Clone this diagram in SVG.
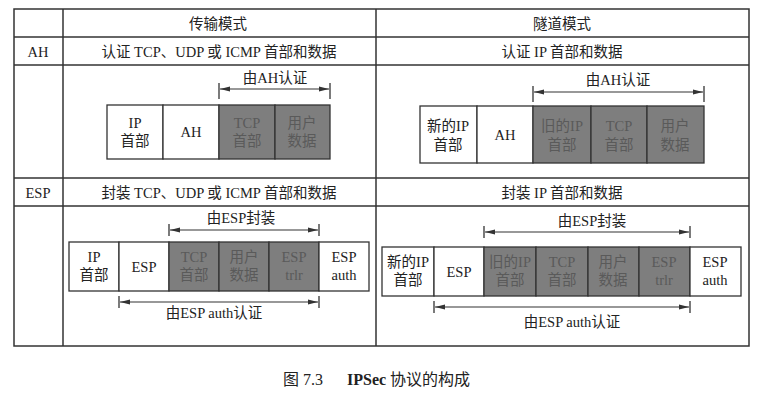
<svg xmlns="http://www.w3.org/2000/svg" width="759" height="401" viewBox="0 0 759 401">
<defs>
<marker id="ah" viewBox="0 0 10 6" refX="10" refY="3" markerWidth="10" markerHeight="6" markerUnits="userSpaceOnUse" orient="auto-start-reverse">
<path d="M0,0.5 L10,3 L0,5.5 Z" fill="#333"/>
</marker>
<style>
text{font-family:"Liberation Serif","Noto Sans CJK SC",serif;fill:#222;font-size:14.5px;text-anchor:middle}
.hd{font-size:14.5px}
.grid{stroke:#333;stroke-width:1.5;fill:none}
.w{fill:#fff;stroke:#333;stroke-width:1.3}
.g{fill:#7e7e7e;stroke:#333;stroke-width:1.3}
.gt{fill:#5a5a5a}
.ar{stroke:#333;stroke-width:1.1;fill:none}
.tk{stroke:#333;stroke-width:1.3}
.cap{font-size:16px;text-anchor:start}
</style>
</defs>
<rect width="759" height="401" fill="#fff"/>
<g id="table">
<rect class="grid" x="14" y="9" width="735" height="337"/>
<line class="grid" x1="63" y1="9" x2="63" y2="346"/>
<line class="grid" x1="376" y1="9" x2="376" y2="346"/>
<line class="grid" x1="14" y1="37" x2="749" y2="37"/>
<line class="grid" x1="14" y1="65" x2="749" y2="65"/>
<line class="grid" x1="14" y1="178" x2="749" y2="178"/>
<line class="grid" x1="14" y1="206" x2="749" y2="206"/>
<text class="hd" x="218" y="29">传输模式</text>
<text class="hd" x="562" y="29">隧道模式</text>
<text class="hd" x="38" y="57">AH</text>
<text class="hd" x="219" y="57">认证 TCP、UDP 或 ICMP 首部和数据</text>
<text class="hd" x="562" y="57">认证 IP 首部和数据</text>
<text class="hd" x="38" y="198">ESP</text>
<text class="hd" x="219" y="198">封装 TCP、UDP 或 ICMP 首部和数据</text>
<text class="hd" x="562" y="198">封装 IP 首部和数据</text>
</g>
<g id="ah-transport">
<rect class="w" x="107" y="105" width="56" height="54"/>
<rect class="w" x="163" y="105" width="56" height="54"/>
<rect class="g" x="219" y="105" width="56" height="54"/>
<rect class="g" x="275" y="105" width="55" height="54"/>
<text x="135" y="128">IP</text><text x="135" y="146">首部</text>
<text x="191" y="137">AH</text>
<text class="gt" x="247" y="128">TCP</text><text class="gt" x="247" y="146">首部</text>
<text class="gt" x="302" y="128">用户</text><text class="gt" x="302" y="146">数据</text>
</g>
<g id="ah-tunnel">
<rect class="w" x="420" y="106" width="57" height="57"/>
<rect class="w" x="477" y="106" width="56" height="57"/>
<rect class="g" x="533" y="106" width="58" height="57"/>
<rect class="g" x="591" y="106" width="56" height="57"/>
<rect class="g" x="647" y="106" width="57" height="57"/>
<text x="448" y="131">新的IP</text><text x="448" y="150">首部</text>
<text x="505" y="140">AH</text>
<text class="gt" x="562" y="131">旧的IP</text><text class="gt" x="562" y="150">首部</text>
<text class="gt" x="619" y="131">TCP</text><text class="gt" x="619" y="150">首部</text>
<text class="gt" x="675" y="131">用户</text><text class="gt" x="675" y="150">数据</text>
</g>
<g id="esp-transport">
<rect class="w" x="69" y="242" width="50" height="49"/>
<rect class="w" x="119" y="242" width="50" height="49"/>
<rect class="g" x="169" y="242" width="50" height="49"/>
<rect class="g" x="219" y="242" width="50" height="49"/>
<rect class="g" x="269" y="242" width="50" height="49"/>
<rect class="w" x="319" y="242" width="50" height="49"/>
<text x="94" y="262">IP</text><text x="94" y="280">首部</text>
<text x="144" y="272">ESP</text>
<text class="gt" x="194" y="262">TCP</text><text class="gt" x="194" y="280">首部</text>
<text class="gt" x="244" y="262">用户</text><text class="gt" x="244" y="280">数据</text>
<text class="gt" x="294" y="262">ESP</text><text class="gt" x="294" y="280">trlr</text>
<text x="344" y="262">ESP</text><text x="344" y="280">auth</text>
</g>
<g id="esp-tunnel">
<rect class="w" x="382" y="247" width="52" height="49"/>
<rect class="w" x="434" y="247" width="50" height="49"/>
<rect class="g" x="484" y="247" width="52" height="49"/>
<rect class="g" x="536" y="247" width="52" height="49"/>
<rect class="g" x="588" y="247" width="51" height="49"/>
<rect class="g" x="639" y="247" width="51" height="49"/>
<rect class="w" x="690" y="247" width="51" height="49"/>
<text x="408" y="267">新的IP</text><text x="408" y="285">首部</text>
<text x="459" y="277">ESP</text>
<text class="gt" x="510" y="267">旧的IP</text><text class="gt" x="510" y="285">首部</text>
<text class="gt" x="562" y="267">TCP</text><text class="gt" x="562" y="285">首部</text>
<text class="gt" x="613" y="267">用户</text><text class="gt" x="613" y="285">数据</text>
<text class="gt" x="664" y="267">ESP</text><text class="gt" x="664" y="285">trlr</text>
<text x="715" y="267">ESP</text><text x="715" y="285">auth</text>
</g>
<g id="connectors">
<line class="ar" x1="220" y1="89" x2="329" y2="89" marker-start="url(#ah)" marker-end="url(#ah)"/>
<line class="tk" x1="219" y1="83" x2="219" y2="99"/><line class="tk" x1="330" y1="83" x2="330" y2="99"/>
<text x="275" y="83">由AH认证</text>
<line class="ar" x1="534" y1="92" x2="703" y2="92" marker-start="url(#ah)" marker-end="url(#ah)"/>
<line class="tk" x1="533" y1="86" x2="533" y2="102"/><line class="tk" x1="704" y1="86" x2="704" y2="102"/>
<text x="618" y="85">由AH认证</text>
<line class="ar" x1="170" y1="230" x2="318" y2="230" marker-start="url(#ah)" marker-end="url(#ah)"/>
<line class="tk" x1="169" y1="224" x2="169" y2="236"/><line class="tk" x1="319" y1="224" x2="319" y2="236"/>
<text x="241" y="223">由ESP封装</text>
<line class="ar" x1="120" y1="302" x2="318" y2="302" marker-start="url(#ah)" marker-end="url(#ah)"/>
<line class="tk" x1="119" y1="296" x2="119" y2="308"/><line class="tk" x1="319" y1="296" x2="319" y2="308"/>
<text x="214" y="318">由ESP auth认证</text>
<line class="ar" x1="485" y1="232" x2="689" y2="232" marker-start="url(#ah)" marker-end="url(#ah)"/>
<line class="tk" x1="484" y1="226" x2="484" y2="238"/><line class="tk" x1="690" y1="226" x2="690" y2="238"/>
<text x="592" y="226">由ESP封装</text>
<line class="ar" x1="435" y1="307" x2="689" y2="307" marker-start="url(#ah)" marker-end="url(#ah)"/>
<line class="tk" x1="434" y1="301" x2="434" y2="313"/><line class="tk" x1="690" y1="301" x2="690" y2="313"/>
<text x="572" y="327">由ESP auth认证</text>
</g>
<g id="caption">
<text class="cap" x="283" y="385">图 7.3</text>
<text class="cap" x="347" y="385"><tspan font-weight="bold">IPSec</tspan> 协议的构成</text>
</g>
</svg>
